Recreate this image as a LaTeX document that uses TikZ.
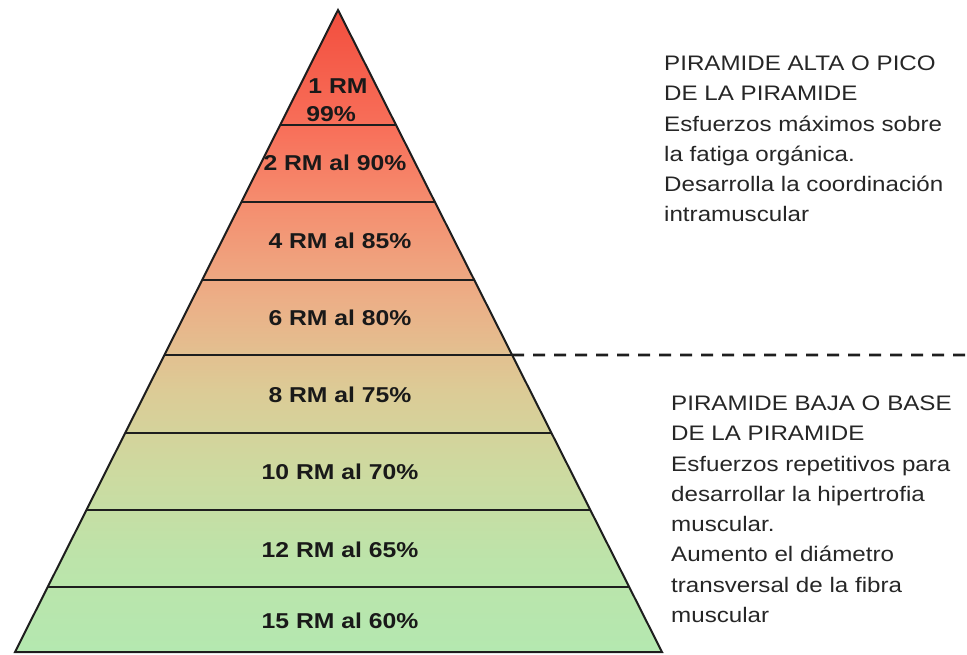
\documentclass[tikz,border=0pt]{standalone}
\usepackage{fontspec}
\setmainfont{Liberation Sans}
\usetikzlibrary{calc}

\definecolor{topred}{RGB}{242,78,62}
\definecolor{redish}{RGB}{248,112,90}
\definecolor{salmon}{RGB}{245,140,110}
\definecolor{peach}{RGB}{236,175,135}
\definecolor{tan}{RGB}{220,203,150}
\definecolor{olive}{RGB}{205,218,160}
\definecolor{palegreen}{RGB}{188,228,170}
\definecolor{lowgreen}{RGB}{180,232,176}
\definecolor{inkline}{RGB}{30,30,30}

\pgfdeclareverticalshading{pyramidfade}{100bp}{color(0bp)=(lowgreen); color(25bp)=(lowgreen); color(32bp)=(palegreen); color(39bp)=(olive); color(45.4bp)=(tan); color(52.4bp)=(peach); color(60.2bp)=(salmon); color(65.7bp)=(redish); color(75bp)=(topred); color(100bp)=(topred)}

\newcommand{\widetext}[1]{\scalebox{1.15}[1]{#1}}

\begin{document}
\begin{tikzpicture}[x=1pt,y=-1pt,
  level/.style={font=\bfseries\fontsize{21.5}{24}\selectfont, text=black!90},
  note/.style={anchor=north west, inner sep=0pt, font=\fontsize{21}{30.3}\selectfont, text=black!85},
  band/.style={line width=2pt, draw=inkline},
  outline/.style={line width=2pt, draw=inkline, line join=miter},
  dashline/.style={line width=2.6pt, draw=inkline, dash pattern=on 12pt off 9pt}]

\useasboundingbox (0,0) rectangle (967,655);

\coordinate (apex) at (338,10);
\coordinate (bl) at (15,652);
\coordinate (br) at (662,652);

% pyramid body
\shade[shading=pyramidfade] (apex) -- (bl) -- (br) -- cycle;
\foreach \y in {125,202,280,355,433,510,587}
    \draw[band] ($(apex)!{(\y-10)/642}!(bl)$) -- ($(apex)!{(\y-10)/642}!(br)$);
\draw[outline] (apex) -- (bl) -- (br) -- cycle;

% levels
\node[level] (rm1) at (338,86) {\widetext{1 RM}};
\node[level] (rm1b) at (331,114) {\widetext{99\%}};
\node[level] (rm2) at (335,163) {\widetext{2 RM al 90\%}};
\node[level] (rm4) at (340,241) {\widetext{4 RM al 85\%}};
\node[level] (rm6) at (340,318) {\widetext{6 RM al 80\%}};
\node[level] (rm8) at (340,395) {\widetext{8 RM al 75\%}};
\node[level] (rm10) at (340,472) {\widetext{10 RM al 70\%}};
\node[level] (rm12) at (340,550) {\widetext{12 RM al 65\%}};
\node[level] (rm15) at (340,621) {\widetext{15 RM al 60\%}};

% split between high and low
\coordinate (split) at ($(apex)!{345/642}!(br)$);
\coordinate (splitend) at (967,355);
\draw[dashline] (split) -- (splitend);

% notes
\node[note] (high) at (664,49) {\widetext{\begin{tabular}{@{}l@{}}
PIRAMIDE ALTA O PICO\\
DE LA PIRAMIDE\\
Esfuerzos máximos sobre\\
la fatiga orgánica.\\
Desarrolla la coordinación\\
intramuscular
\end{tabular}}};

\node[note] (low) at (671,389) {\widetext{\begin{tabular}{@{}l@{}}
PIRAMIDE BAJA O BASE\\
DE LA PIRAMIDE\\
Esfuerzos repetitivos para\\
desarrollar la hipertrofia\\
muscular.\\
Aumento el diámetro\\
transversal de la fibra\\
muscular
\end{tabular}}};

\end{tikzpicture}
\end{document}
